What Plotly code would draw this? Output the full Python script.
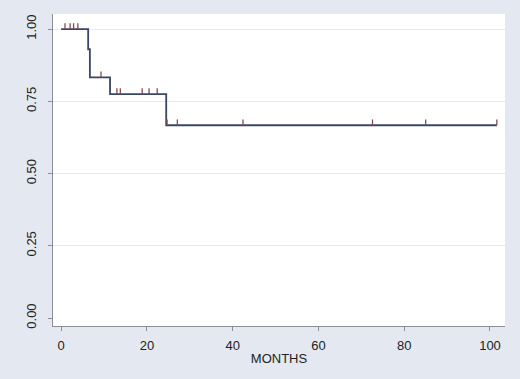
import plotly.graph_objects as go
import numpy as np

# Kaplan-Meier step data (months, survival)
event_times = [0, 6.3, 6.7, 11.4, 24.5, 101.6]
survival = [1.0, 0.93, 0.833, 0.775, 0.667, 0.667]

# Censored observation times (months)
censor_times = [0.9, 2.1, 2.9, 3.9, 9.3, 13.0, 13.8, 18.9, 20.5, 22.4,
                24.7, 27.1, 42.4, 72.6, 85.0, 101.6]

x_ticks = [0, 20, 40, 60, 80, 100]
y_ticks = [0.0, 0.25, 0.5, 0.75, 1.0]
y_tick_text = ["0.00", "0.25", "0.50", "0.75", "1.00"]
grid_vals = [0.25, 0.5, 0.75, 1.0]

def surv_at(t):
    idx = np.searchsorted(event_times, t, side="right") - 1
    return survival[max(idx, 0)]

mark_h = 0.02
cx, cy = [], []
for t in censor_times:
    s = surv_at(t)
    cx += [t, t, None]
    cy += [s, s + mark_h, None]

fig = go.Figure()
fig.add_trace(go.Scatter(x=event_times, y=survival, mode="lines",
                         line=dict(color="#3a4664", width=1.8, shape="hv"),
                         showlegend=False, hoverinfo="skip"))
fig.add_trace(go.Scatter(x=cx, y=cy, mode="lines",
                         line=dict(color="#8a4a4a", width=1.3),
                         showlegend=False, hoverinfo="skip"))
# grid-only overlay axis (no gridline at 0)
fig.add_trace(go.Scatter(x=[None], y=[None], yaxis="y2", showlegend=False))

font = dict(family="Liberation Sans, Arial, sans-serif", size=13, color="#222222")
yr = [-0.0277, 1.052]
fig.update_layout(
    width=520, height=379,
    margin=dict(l=53, r=15, t=14, b=53, autoexpand=False),
    paper_bgcolor="#e4e9f1",
    plot_bgcolor="#ffffff",
    font=font,
    xaxis=dict(range=[-1.9, 103.5], tickvals=x_ticks, showgrid=False,
               zeroline=False, showline=True, linecolor="#8a8f99", linewidth=1,
               ticks="outside", ticklen=4, tickcolor="#8a8f99",
               ticklabelstandoff=3, automargin=False,
               title=dict(text="MONTHS", standoff=2, font=font)),
    yaxis=dict(range=yr, tickvals=y_ticks, ticktext=y_tick_text, tickangle=-90,
               showgrid=False, zeroline=False, showline=True, linecolor="#8a8f99",
               linewidth=1, ticks="outside", ticklen=4, tickcolor="#8a8f99",
               ticklabelstandoff=7, automargin=False),
    yaxis2=dict(range=yr, overlaying="y", tickvals=grid_vals, showticklabels=False,
                showgrid=True, gridcolor="#e6e9ee", gridwidth=1, zeroline=False,
                showline=False, ticks="", automargin=False),
)
fig.write_html("out.html", config={"displayModeBar": False},
               post_script="document.body.style.margin='0';document.body.style.overflow='hidden';")
